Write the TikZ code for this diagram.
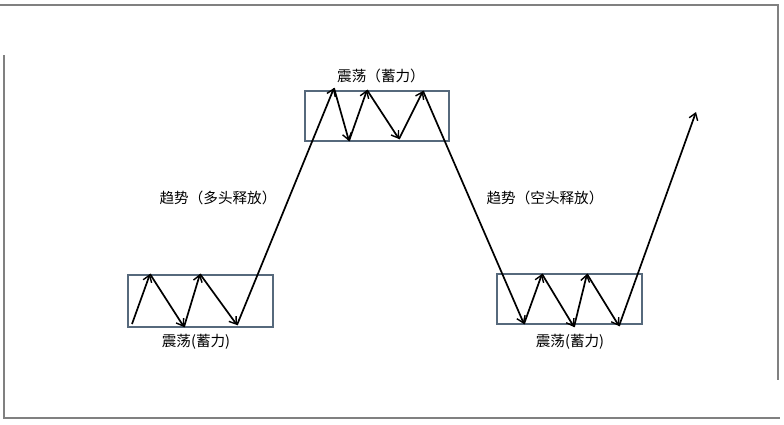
\documentclass[tikz,border=0pt]{standalone}
\usepackage{fontspec}
\newfontfamily\cjk{Noto Sans CJK SC}
\usetikzlibrary{arrows.meta}
\definecolor{boxc}{HTML}{56697C}
\definecolor{framec}{HTML}{808080}
\tikzset{
  zz/.style={line width=1.7pt, black, -{Straight Barb[length=6.5pt,width=9pt,line width=1.4pt]}},
  rangebox/.style={draw=boxc, line width=1.6pt},
  lbl/.style={font=\cjk\fontsize{14.6}{16}\selectfont, inner sep=0pt, text=black},
}
\begin{document}
\begin{tikzpicture}[x=1pt,y=-1pt]
\useasboundingbox (0,0) rectangle (784,424);
\fill[white] (0,0) rectangle (784,424);
% frame
\draw[framec, line width=2pt] (4,55) -- (4,418) -- (780,418);
\draw[framec, line width=2pt] (0,5) -- (778,5) -- (778,380);
% boxes
\draw[rangebox] (128,275) rectangle (273,327);
\draw[rangebox] (305,91) rectangle (449,141);
\draw[rangebox] (497,274) rectangle (642,324);
% points
\coordinate (p0) at (132,324);
\coordinate (p1) at (150,274);
\coordinate (p2) at (184,327);
\coordinate (p3) at (200,274);
\coordinate (p4) at (237,325);
\coordinate (q0) at (334,88);
\coordinate (q1) at (349,141);
\coordinate (q2) at (367,90);
\coordinate (q3) at (399,139);
\coordinate (q4) at (423,91);
\coordinate (r0) at (524,324);
\coordinate (r1) at (542,274);
\coordinate (r2) at (574,327);
\coordinate (r3) at (587,274);
\coordinate (r4) at (619,326);
\coordinate (s) at (696,112);
\draw[zz] (p0) -- (p1);
\draw[zz] (p1) -- (p2);
\draw[zz] (p2) -- (p3);
\draw[zz] (p3) -- (p4);
\draw[zz] (p4) -- (q0);
\draw[zz] (q0) -- (q1);
\draw[zz] (q1) -- (q2);
\draw[zz] (q2) -- (q3);
\draw[zz] (q3) -- (q4);
\draw[zz] (q4) -- (r0);
\draw[zz] (r0) -- (r1);
\draw[zz] (r1) -- (r2);
\draw[zz] (r2) -- (r3);
\draw[zz] (r3) -- (r4);
\draw[zz] (r4) -- (s);
% labels
\node[lbl] (l1) at (196,342) {震荡(蓄力)};
\node[lbl] (l2) at (381,76) {震荡（蓄力）};
\node[lbl] (l3) at (570,342) {震荡(蓄力)};
\node[lbl] (t1) at (218,198) {趋势（多头释放）};
\node[lbl] (t2) at (545,198) {趋势（空头释放）};
\end{tikzpicture}
\end{document}
